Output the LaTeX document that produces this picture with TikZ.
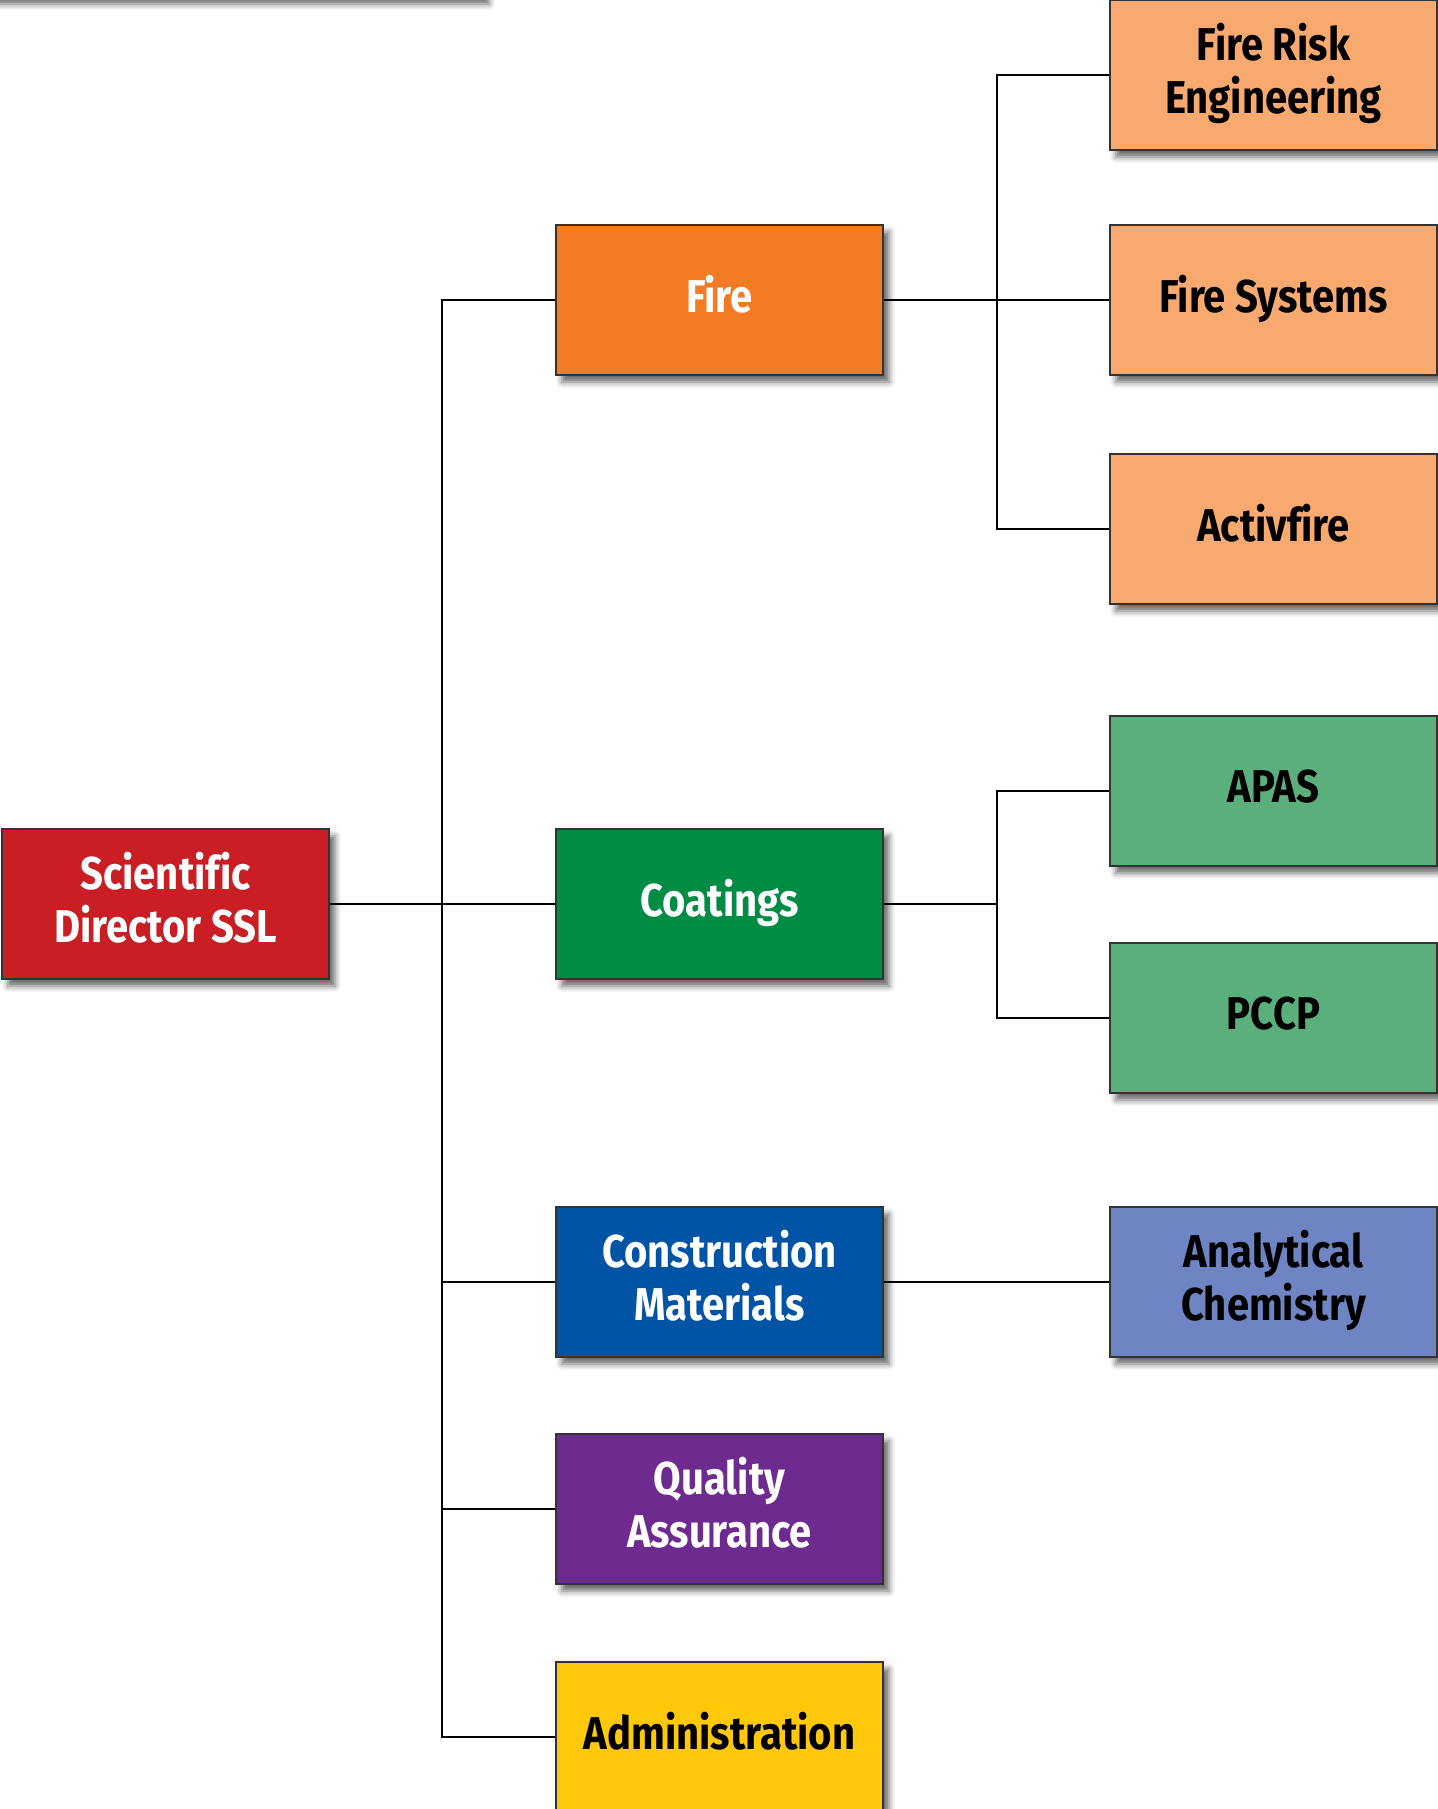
\documentclass[tikz,border=0pt]{standalone}
\usepackage{fontspec}
\setmainfont{Fira Sans}[FakeStretch=0.87, Ligatures=NoCommon]
\usepackage{tikz}
\usetikzlibrary{calc}
\usetikzlibrary{shadows.blur}
\usepackage{xcolor}
\definecolor{colDir}{RGB}{200,30,36}
\definecolor{colFire}{RGB}{243,123,35}
\definecolor{colFireL}{RGB}{247,169,112}
\definecolor{colCoat}{RGB}{0,140,68}
\definecolor{colCoatL}{RGB}{90,175,125}
\definecolor{colCM}{RGB}{0,83,165}
\definecolor{colCML}{RGB}{110,132,195}
\definecolor{colQA}{RGB}{110,43,143}
\definecolor{colAdm}{RGB}{255,200,10}
\tikzset{
  orgbox/.style={draw=black!80, line width=0.75pt, inner sep=0pt,
    minimum width=163.5pt, minimum height=75pt, align=center,
    font=\bfseries\fontsize{23}{26.5}\selectfont,
    execute at begin node={\rule{0pt}{18pt}},
    execute at end node={\rule[-6.2pt]{0pt}{0pt}},
    blur shadow={shadow xshift=3pt, shadow yshift=-3.5pt, shadow blur radius=3pt, shadow opacity=60}},
  link/.style={draw=black, line width=0.65pt}
}

\begin{document}
\begin{tikzpicture}[x=0.5pt,y=-0.5pt]
	\useasboundingbox (0,0) rectangle (1438,1809);

 % ================================================================
 % cut-off box above the frame (only its shadow shows)
 % ================================================================
	\path[fill=white, draw=black!80, line width=0.75pt,
	  blur shadow={shadow xshift=3pt, shadow yshift=-3.5pt, shadow blur radius=3pt, shadow opacity=60}]
	  (-20,-200) rectangle (483,-3);

 % ================================================================
 % Boxes
 % ================================================================
	% head
	\node[orgbox, fill=colDir, text=white] (dir) at (165.5,904) {Scientific\\Director SSL};
	% groups
	\node[orgbox, fill=colFire, text=white] (fire) at (719.5,300) {Fire};
	\node[orgbox, fill=colCoat, text=white] (coat) at (719.5,904) {Coatings};
	\node[orgbox, fill=colCM, text=white] (cm) at (719.5,1282) {Construction\\Materials};
	\node[orgbox, fill=colQA, text=white] (qa) at (719.5,1509) {Quality\\Assurance};
	\node[orgbox, fill=colAdm] (adm) at (719.5,1737) {Administration};
	% sections
	\node[orgbox, fill=colFireL] (fre) at (1273.5,75) {Fire Risk\\Engineering};
	\node[orgbox, fill=colFireL] (fs) at (1273.5,300) {Fire Systems};
	\node[orgbox, fill=colFireL] (act) at (1273.5,529) {Activfire};
	\node[orgbox, fill=colCoatL] (apas) at (1273.5,791) {APAS};
	\node[orgbox, fill=colCoatL] (pccp) at (1273.5,1018) {PCCP};
	\node[orgbox, fill=colCML] (ac) at (1273.5,1282) {Analytical\\Chemistry};

 % ================================================================
 % Links
 % ================================================================
	\coordinate (hubA) at (442,904);
	\coordinate (hubB) at (997,300);
	\coordinate (hubC) at (997,904);

	% head to groups
	\draw[link] (dir.east) -- (coat.west);
	\draw[link] (fire.west) -| (hubA) |- (adm.west);
	\draw[link] (hubA) |- (cm.west);
	\draw[link] (hubA) |- (qa.west);
	% fire sections
	\draw[link] (fire.east) -- (fs.west);
	\draw[link] (fre.west) -| (hubB) |- (act.west);
	% coatings sections
	\draw[link] (coat.east) -- (hubC);
	\draw[link] (apas.west) -| (hubC) |- (pccp.west);
	% construction materials section
	\draw[link] (cm.east) -- (ac.west);

\end{tikzpicture}
\end{document}
